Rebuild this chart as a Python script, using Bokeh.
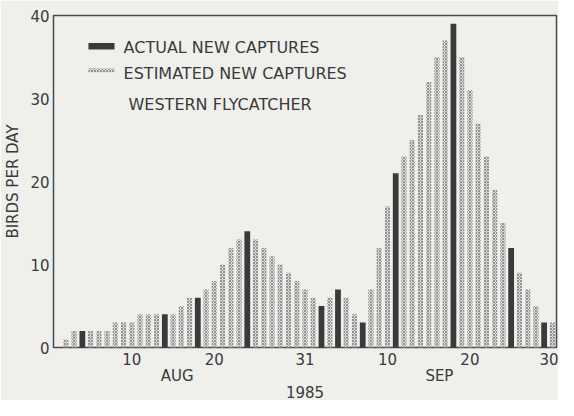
from bokeh.plotting import figure
from bokeh.models import LinearAxis, Range1d, FixedTicker, ColumnDataSource, Label, BoxAnnotation
from bokeh.embed import file_html
from bokeh.resources import INLINE

# Day index: 1 = Aug 1, 61 = Sep 30 (1985)
actual_days = [4, 14, 18, 24, 33, 35, 38, 42, 49, 56, 60]
actual_counts = [2, 4, 6, 14, 5, 7, 3, 21, 39, 12, 3]

estimated_days = [2, 3, 5, 6, 7, 8, 9, 10, 11, 12, 13, 15, 16, 17, 19, 20, 21, 22, 23,
                  25, 26, 27, 28, 29, 30, 31, 32, 34, 36, 37, 39, 40, 41, 43, 44, 45,
                  46, 47, 48, 50, 51, 52, 53, 54, 55, 57, 58, 59, 61]
estimated_counts = [1, 2, 2, 2, 2, 3, 3, 3, 4, 4, 4, 4, 5, 6, 7, 8, 10, 12, 13,
                    13, 12, 11, 10, 9, 8, 7, 6, 6, 6, 4, 7, 12, 17, 23, 25, 28,
                    32, 35, 37, 35, 31, 27, 23, 19, 15, 9, 7, 5, 3]

day_ticks = [10, 20, 31, 41, 51, 61]
day_tick_labels = ["10", "20", "31", "10", "20", "30"]
month_ticks = [15.5, 47.3]
month_labels = ["AUG", "SEP"]
year_label = "1985"
y_ticks = [0, 10, 20, 30, 40]

PAPER = "#efefec"
INK = "#3a3a3a"
FONT = "DejaVu Sans"

p = figure(width=558, height=400, x_range=Range1d(0.5, 61.5), y_range=Range1d(0, 40),
           output_backend="svg", toolbar_location=None,
           x_axis_location=None, y_axis_location=None,
           min_border_left=53, min_border_right=2, min_border_top=15, min_border_bottom=40,
           background_fill_color=PAPER, border_fill_color=PAPER)
p.grid.visible = False
p.outline_line_color = "#4a4a4a"
p.outline_line_width = 1.5

est_src = ColumnDataSource(dict(x=estimated_days, top=estimated_counts))
act_src = ColumnDataSource(dict(x=actual_days, top=actual_counts))

p.vbar(x="x", top="top", width=0.62, source=est_src,
       fill_color="#dcdcda", line_color=None,
       hatch_pattern="diagonal_cross", hatch_color="#8a8a8a", hatch_scale=3.0, hatch_weight=0.9)
p.vbar(x="x", top="top", width=0.7, source=act_src,
       fill_color=INK, line_color=None)

yax = LinearAxis(ticker=FixedTicker(ticks=y_ticks), axis_label="BIRDS PER DAY")
xax = LinearAxis(ticker=FixedTicker(ticks=day_ticks),
                 major_label_overrides=dict(zip(day_ticks, day_tick_labels)))
max_ = LinearAxis(ticker=FixedTicker(ticks=month_ticks),
                  major_label_overrides=dict(zip(month_ticks, month_labels)),
                  axis_label=year_label)

for ax in (yax, xax, max_):
    ax.major_tick_line_color = None
    ax.minor_tick_line_color = None
    ax.major_tick_out = 0
    ax.major_tick_in = 0
    ax.minor_tick_out = 0
    ax.minor_tick_in = 0
    ax.axis_line_color = None
    ax.major_label_text_font = FONT
    ax.major_label_text_font_size = "15px"
    ax.major_label_text_color = INK
    ax.axis_label_text_font = FONT
    ax.axis_label_text_font_size = "15px"
    ax.axis_label_text_font_style = "normal"
    ax.axis_label_text_color = INK

yax.major_label_standoff = 4
yax.axis_label_standoff = 5
xax.major_label_standoff = 5
max_.major_label_standoff = -1
max_.axis_label_standoff = -2

p.add_layout(yax, "left")
p.add_layout(xax, "below")
p.add_layout(max_, "below")

# legend (drawn manually)
p.add_layout(BoxAnnotation(left=4.74, right=7.9, bottom=35.9, top=36.7,
                           fill_color=INK, fill_alpha=1, line_color=None))
p.add_layout(BoxAnnotation(left=4.74, right=7.9, bottom=33.15, top=33.6,
                           fill_color="#dcdcda", fill_alpha=1, line_color=None,
                           hatch_pattern="diagonal_cross", hatch_color="#8a8a8a",
                           hatch_scale=3.0, hatch_weight=0.9))
for txt, x, y in [("ACTUAL NEW CAPTURES", 9.0, 36.2),
                  ("ESTIMATED NEW CAPTURES", 9.0, 33.0),
                  ("WESTERN FLYCATCHER", 9.6, 29.3)]:
    p.add_layout(Label(x=x, y=y, text=txt, text_font=FONT, text_font_size="16px",
                       text_color=INK, text_baseline="middle"))

open("out.html", "w").write(file_html(p, INLINE))
